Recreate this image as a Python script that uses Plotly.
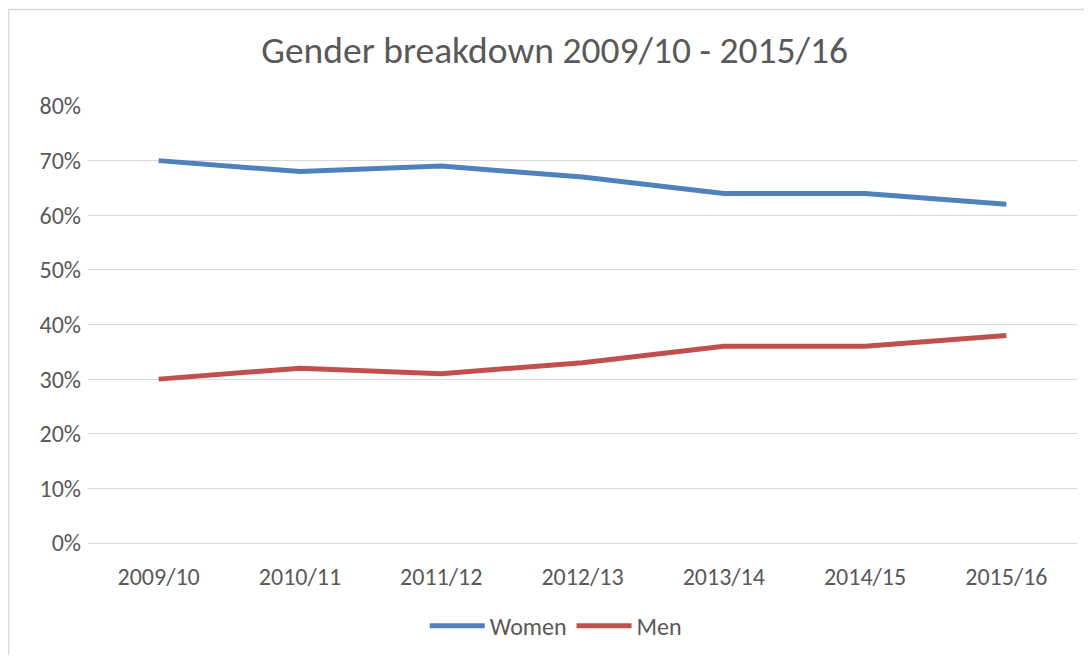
import plotly.graph_objects as go

# Data
years = ["2009/10", "2010/11", "2011/12", "2012/13", "2013/14", "2014/15", "2015/16"]
women = [0.70, 0.68, 0.69, 0.67, 0.64, 0.64, 0.62]
men = [0.30, 0.32, 0.31, 0.33, 0.36, 0.36, 0.38]

grey_text = "#595959"
grid = "#d9d9d9"

fig = go.Figure()

fig.add_trace(
    go.Scatter(
        x=years,
        y=women,
        mode="lines",
        name="Women",
        line=dict(color="#4f81bd", width=5),
    )
)
fig.add_trace(
    go.Scatter(
        x=years,
        y=men,
        mode="lines",
        name="Men",
        line=dict(color="#c0504d", width=5),
    )
)

# page has an 8px body margin, so the figure is 16px smaller than the window
fig.update_layout(
    width=1076,
    height=647,
    margin=dict(l=80, r=7, t=98, b=108),
    paper_bgcolor="white",
    plot_bgcolor="white",
    font=dict(family="Carlito, Calibri, Lato, sans-serif", color=grey_text, size=24),
    title=dict(
        text="Gender breakdown 2009/10 - 2015/16",
        x=0.508,
        xanchor="center",
        y=0.935,
        yanchor="middle",
        font=dict(size=37.5, color=grey_text),
    ),
    xaxis=dict(
        range=[-0.5, 6.5],
        showgrid=False,
        showline=True,
        linecolor=grid,
        linewidth=1,
        ticks="",
        ticklabelstandoff=12,
    ),
    yaxis=dict(
        range=[0, 0.8],
        dtick=0.1,
        tickformat=".0%",
        showgrid=True,
        gridcolor=grid,
        gridwidth=1,
        zeroline=False,
        showline=False,
        ticks="",
        ticklabelstandoff=6,
    ),
    legend=dict(
        orientation="h",
        x=0.473,
        xanchor="center",
        y=-0.19,
        yanchor="middle",
        font=dict(size=24),
        itemwidth=55,
        tracegroupgap=0,
    ),
    showlegend=True,
)

# chart frame: only the left and top edges fall inside the picture
frame = dict(type="line", xref="paper", yref="paper", layer="below",
             line=dict(color=grid, width=1.5))
fig.add_shape(x0=-0.0804, x1=-0.0804, y0=-0.5, y1=1.2211, **frame)
fig.add_shape(x0=-0.0804, x1=1.2, y0=1.2211, y1=1.2211, **frame)

fig.write_html("out.html")
